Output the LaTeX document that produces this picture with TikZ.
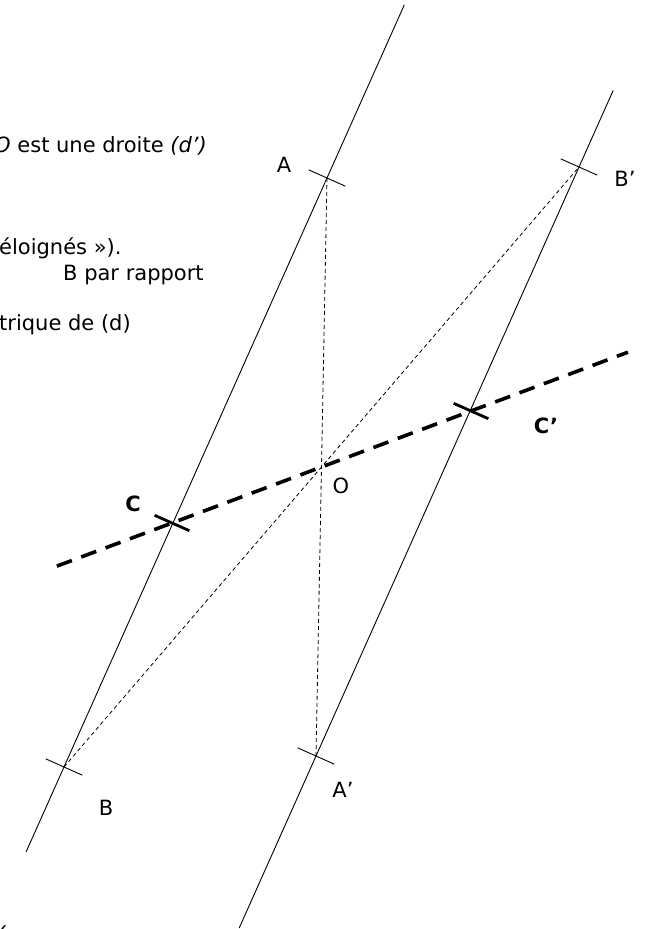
\documentclass[tikz,border=0pt]{standalone}
\usepackage{fontspec}
\setmainfont{DejaVu Sans}
\usetikzlibrary{calc}

\tikzset{
  trait/.style={line width=0.9pt},
  pointille/.style={line width=0.8pt, dash pattern=on 4pt off 3pt},
  mediane/.style={line width=3.6pt, dash pattern=on 16pt off 10pt},
  repere/.style={line width=0.9pt},
  reperegras/.style={line width=2.8pt},
  etiq/.style={font=\fontsize{21}{25}\selectfont, inner sep=0pt},
  etiqgras/.style={font=\fontsize{21}{25}\selectfont\bfseries, inner sep=0pt},
  texte/.style={font=\fontsize{21}{25}\selectfont, anchor=base west, inner sep=0pt},
}

\begin{document}
\begin{tikzpicture}[x=1pt, y=-1pt]
  \useasboundingbox (0,0) rectangle (648,929);

  % points de la figure
  \coordinate (A) at (327,178);
  \coordinate (B) at (64,767);
  \coordinate (Bp) at (579,167);
  \coordinate (O) at ($(B)!0.5!(Bp)$);
  \coordinate (Ap) at ($(O)!-1!(A)$);
  \coordinate (C) at (172,523);
  \coordinate (Cp) at ($(O)!-1!(C)$);

  % les deux droites paralleles
  \draw[trait] ($(B)!-0.144!(A)$) -- ($(B)!1.294!(A)$);
  \draw[trait] ($(Ap)!-0.292!(Bp)$) -- ($(Ap)!1.13!(Bp)$);

  % segments [AA'] et [BB']
  \draw[pointille] (A) -- (Ap);
  \draw[pointille] (B) -- (Bp);

  % droite passant par O
  \draw[mediane] ($(C)!-0.77!(O)$) -- ($(C)!3.05!(O)$);

  % reperes
  \draw[repere] ($(A)!20pt!90:(B)$) -- ($(A)!20pt!-90:(B)$);
  \draw[repere] ($(B)!20pt!90:(A)$) -- ($(B)!20pt!-90:(A)$);
  \draw[repere] ($(Ap)!20pt!90:(Bp)$) -- ($(Ap)!20pt!-90:(Bp)$);
  \draw[repere] ($(Bp)!20pt!90:(Ap)$) -- ($(Bp)!20pt!-90:(Ap)$);
  \draw[reperegras] ($(C)!19pt!90:(B)$) -- ($(C)!19pt!-90:(B)$);
  \draw[reperegras] ($(Cp)!19pt!90:(Bp)$) -- ($(Cp)!19pt!-90:(Bp)$);

  % noms des points
  \node[etiq] (nA) at (284,165) {A};
  \node[etiq] (nB) at (106,808) {B};
  \node[etiq] (nAp) at (343,790) {A’};
  \node[etiq] (nBp) at (625,179) {B’};
  \node[etiq] (nO) at (341,486) {O};
  \node[etiqgras] (nC) at (133,504) {C};
  \node[etiqgras] (nCp) at (546,426) {C’};

  % morceaux du texte
  \node[texte] (t1) at (-6,152) {\textit{O} est une droite \textit{(d’)}};
  \node[texte] (t2) at (-1,254) {éloignés »).};
  \node[texte] (t3) at (63,280) {B par rapport};
  \node[texte] (t4) at (-1,330) {trique de (d)};
  \node[texte] (t5) at (-7,549) {\textit{)}};
  \node[texte] (t6) at (-3,941) {\textit{(}};
\end{tikzpicture}
\end{document}
